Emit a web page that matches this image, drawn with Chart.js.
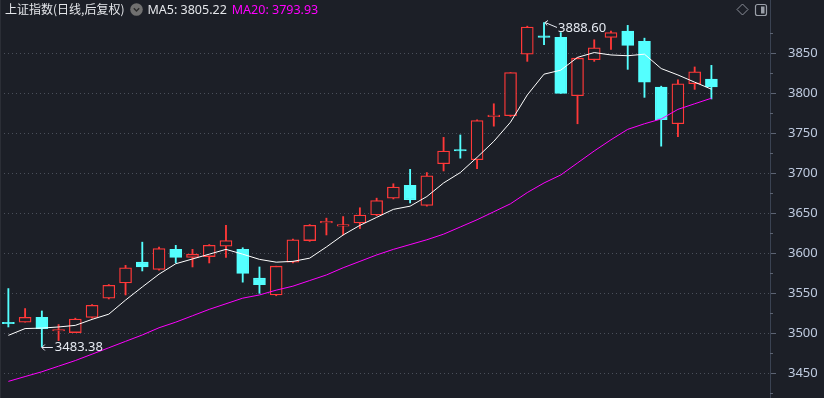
<!DOCTYPE html>
<html>
<head>
<meta charset="utf-8">
<script src="https://cdn.jsdelivr.net/npm/chart.js@4.4.1/dist/chart.umd.min.js"></script>
<style>
  html, body { margin:0; padding:0; background:#1c1f27; }
  #wrap { position:relative; width:824px; height:398px; overflow:hidden; background:#1c1f27; }
  #c { position:absolute; left:0; top:0; }
  #hdr { position:absolute; left:5px; top:0px; height:18px; line-height:18px; font-size:12.5px; color:#e4e6ea;
         font-family:"Noto Sans","Noto Sans CJK SC",sans-serif; white-space:nowrap; }
  #hdr .t { font-family:"Noto Sans CJK SC","Noto Sans",sans-serif; font-size:12px; }
  #hdr .ic { display:inline-block; vertical-align:middle; margin:0 4px 2px 6px; }
  #hdr .ma20 { color:#ff00ff; margin-left:5px; }
  #icons { position:absolute; left:736px; top:3px; }
  #lb { position:absolute; left:0; top:0; width:1px; height:398px; background:#2b2e36; }
</style>
</head>
<body>
<div id="wrap">
  <canvas id="c" width="824" height="398"></canvas>
  <div id="lb"></div>
  <div id="hdr"><span class="t">上证指数(日线,后复权)</span><svg class="ic" width="13" height="13" viewBox="0 0 13 13"><circle cx="6.5" cy="6.5" r="6.3" fill="#707070"/><path d="M3.8 5.2 L6.5 7.9 L9.2 5.2" stroke="#2a2a2a" stroke-width="1.4" fill="none"/></svg><span id="ma5txt">MA5: 3805.22</span><span class="ma20" id="ma20txt">MA20: 3793.93</span></div>
  <svg id="icons" width="34" height="14" viewBox="0 0 34 14">
    <path d="M6.5 1 L12 6.5 L6.5 12 L1 6.5 Z" stroke="#8a8f99" stroke-width="1" fill="none"/>
    <rect x="19.5" y="1.5" width="11" height="11" rx="2" ry="2" stroke="#9a9fa8" stroke-width="1.2" fill="none"/>
    <rect x="25" y="3.5" width="3.5" height="7" fill="#9a9fa8"/>
  </svg>
</div>
<script>
// ---- data ----
const opens  = [3513,3514,3520,3503,3501,3520,3544,3563,3589,3580,3605,3595,3596,3609,3605,3569,3548,3589,3616,3638,3634,3638,3648,3669,3685,3660,3712,3729,3717,3771,3772,3849,3871,3870,3797,3842,3870,3878,3865,3808,3762,3812,3818];
const highs  = [3556,3531,3528,3511,3519,3536,3561,3585,3614,3608,3610,3605,3611,3635,3607,3583,3584,3618,3636,3644,3646,3657,3669,3687,3705,3701,3745,3748,3767,3787,3826,3884,3888.6,3876,3845,3867,3878,3885,3869,3809,3817,3833,3835];
const lows   = [3508,3514,3483.38,3491,3501,3519,3543,3548,3578,3579,3588,3583,3588,3595,3564,3550,3547,3588,3615,3623,3623,3631,3647,3668,3663,3659,3703,3719,3706,3759,3771,3840,3861,3800,3762,3840,3855,3830,3795,3734,3746,3805,3793];
const closes = [3512,3520,3506,3504,3518,3535,3560,3582,3583,3606,3595,3599,3610,3616,3575,3561,3584,3617,3635,3640,3635,3648,3666,3683,3667,3697,3728,3728,3766,3772,3826,3883,3870,3800,3844,3857,3876,3860,3814,3767,3812,3827,3808];
const ma5    = [3497.5,3506,3506.6,3508,3510,3517.5,3524,3541.6,3558,3574,3587,3593,3599,3605,3599,3592.5,3589,3590,3594,3608,3623,3635,3645,3655,3659,3671,3688,3701,3720,3740,3764,3798,3824,3829,3845,3851,3848,3847,3849,3831,3823,3814,3805.22];
const ma20   = [3440,3446,3452,3459,3466,3474,3482,3490,3498,3507,3514,3522,3530,3537,3544,3548,3554,3559,3566,3573,3582,3590,3598,3605,3611,3617,3624,3633,3642,3652,3662,3676,3688,3698,3713,3728,3742,3755,3762,3768,3780,3787,3793.93];
const yTicks = [3450,3500,3550,3600,3650,3700,3750,3800,3850];
const yMinorTicks = [3425,3475,3525,3575,3625,3675,3725,3775,3825,3875];
const highMark = {index:32, label:'3888.60'};
const lowMark  = {index:2,  label:'3483.38'};

const BG = '#1c1f27', RED = '#ff3838', CYAN = '#54ffff';
const idx = closes.map((_, i) => i);
const up = idx.map(i => closes[i] >= opens[i]);

const marksPlugin = {
  id: 'marks',
  afterDraw(chart) {
    const {ctx, scales:{x, y}} = chart;
    ctx.save();
    ctx.strokeStyle = '#5c6373';
    ctx.lineWidth = 1;
    yMinorTicks.forEach(v => {
      const py = Math.round(y.getPixelForValue(v)) + 0.5;
      ctx.beginPath(); ctx.moveTo(y.left, py); ctx.lineTo(y.left + 3, py); ctx.stroke();
    });
    ctx.restore();
    ctx.save();
    ctx.font = '13px "Noto Sans", sans-serif';
    ctx.fillStyle = '#e6eaf2';
    ctx.strokeStyle = '#e6eaf2';
    ctx.lineWidth = 1;
    ctx.textBaseline = 'middle';
    ctx.textAlign = 'left';
    {
      const px = x.getPixelForValue(highMark.index) + 1, py = y.getPixelForValue(highs[highMark.index]);
      ctx.beginPath();
      ctx.moveTo(px, py); ctx.lineTo(px + 12, py + 5);
      ctx.moveTo(px, py); ctx.lineTo(px + 3, py - 2);
      ctx.moveTo(px, py); ctx.lineTo(px + 2, py + 3);
      ctx.stroke();
      ctx.fillText(highMark.label, px + 13, py + 6);
    }
    {
      const px = x.getPixelForValue(lowMark.index), py = Math.round(y.getPixelForValue(lows[lowMark.index])) + 0.5;
      ctx.beginPath();
      ctx.moveTo(px, py); ctx.lineTo(px + 11, py);
      ctx.moveTo(px, py); ctx.lineTo(px + 3, py - 3);
      ctx.moveTo(px, py); ctx.lineTo(px + 3, py + 3);
      ctx.stroke();
      ctx.fillText(lowMark.label, px + 13, py);
    }
    ctx.restore();
  }
};

new Chart(document.getElementById('c'), {
  data: {
    datasets: [
      {
        type: 'line', label: 'MA5', order: 0,
        data: idx.map(i => ({x: i, y: ma5[i]})),
        borderColor: '#ffffff', borderWidth: 1, pointRadius: 0, tension: 0, fill: false
      },
      {
        type: 'line', label: 'MA20', order: 0,
        data: idx.map(i => ({x: i, y: ma20[i]})),
        borderColor: '#ff00ff', borderWidth: 1, pointRadius: 0, tension: 0, fill: false
      },
      {
        type: 'bar', label: 'body', order: 1, grouped: false,
        data: idx.map(i => ({x: i, y: [Math.min(opens[i], closes[i]), Math.max(opens[i], closes[i])]})),
        backgroundColor: idx.map(i => up[i] ? BG : CYAN),
        borderColor: idx.map(i => up[i] ? RED : CYAN),
        borderWidth: 1.3, borderSkipped: false, barThickness: 12, minBarLength: 1.5
      },
      {
        type: 'bar', label: 'wick', order: 2, grouped: false,
        data: idx.map(i => ({x: i, y: [lows[i], highs[i]]})),
        backgroundColor: idx.map(i => up[i] ? RED : CYAN),
        borderWidth: 0, barThickness: 1.2
      }
    ]
  },
  options: {
    responsive: false,
    animation: false,
    devicePixelRatio: 1,
    layout: { padding: 0 },
    plugins: { legend: { display: false }, tooltip: { enabled: false }, title: { display: false } },
    scales: {
      x: { type: 'linear', min: -0.5, max: 45.5, display: false, offset: false },
      y: {
        position: 'right',
        min: 3419.2, max: 3916.7,
        afterBuildTicks: s => { s.ticks = yTicks.map(v => ({value: v})); },
        afterFit: s => { s.width = 54; s.paddingTop = 0; s.paddingBottom = 0; },
        grid: { color: '#4a4f5a', lineWidth: 1, tickLength: 6, tickColor: '#5c6373', drawTicks: true },
        border: { color: '#3a4252', width: 1, dash: [1, 3] },
        ticks: { color: '#bfcbe0', font: { size: 13, family: '"Noto Sans", sans-serif' }, padding: 12, callback: v => String(v) }
      }
    }
  },
  plugins: [marksPlugin]
});
</script>
</body>
</html>
